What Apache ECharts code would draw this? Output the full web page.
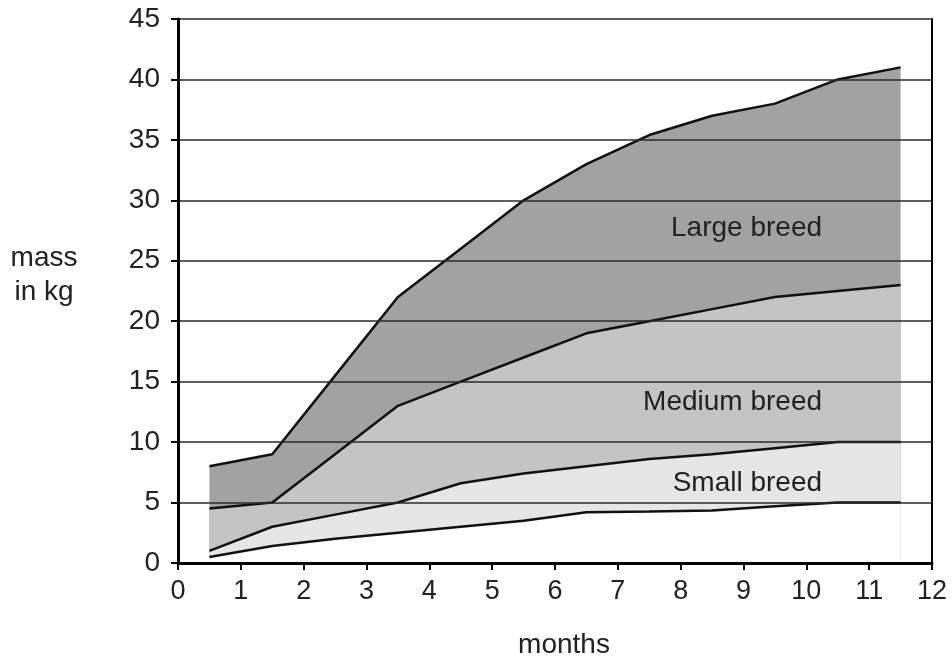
<!DOCTYPE html>
<html>
<head>
<meta charset="utf-8">
<script src="https://cdn.jsdelivr.net/npm/echarts@6/dist/echarts.min.js"></script>
<style>
html,body{margin:0;padding:0;background:#fff;}
#c{width:952px;height:659px;}
</style>
</head>
<body>
<div id="c"></div>
<script>
// months (x values)
var months = [0.5, 1.5, 2.5, 3.5, 4.5, 5.5, 6.5, 7.5, 8.5, 9.5, 10.5, 11.5];
// upper edge of Large breed band
var largeTop = [8, 9, 15.5, 22, 26, 30, 33, 35.4, 37, 38, 40, 41];
// upper edge of Medium breed band (= lower edge of Large breed)
var mediumTop = [4.5, 5, 9, 13, 15, 17, 19, 20, 21, 22, 22.5, 23];
// upper edge of Small breed band (= lower edge of Medium breed)
var smallTop = [1, 3, 4, 5, 6.6, 7.4, 8, 8.6, 9, 9.5, 10, 10];
// lower edge of Small breed band
var smallBottom = [0.5, 1.4, 2, 2.5, 3, 3.5, 4.2, 4.25, 4.35, 4.7, 5, 5];

var xTicks = [0,1,2,3,4,5,6,7,8,9,10,11,12];
var yTicks = [0,5,10,15,20,25,30,35,40,45];

var bandLabels = [
  {text: 'Large breed', x: 10.25, y: 27.7},
  {text: 'Medium breed', x: 10.25, y: 13.3},
  {text: 'Small breed', x: 10.25, y: 6.6}
];

function pairs(ys){ return months.map(function(m,i){ return [m, ys[i]]; }); }

var FONT = "'Liberation Sans', Arial, Helvetica, sans-serif";

function areaSeries(ys, fill){
  return {
    type: 'line',
    data: pairs(ys),
    symbol: 'none',
    smooth: false,
    lineStyle: {color: '#111', width: 2.5},
    areaStyle: {color: fill, opacity: 1, origin: 'start'},
    z: 2,
    silent: true,
    animation: false
  };
}

var chart = echarts.init(document.getElementById('c'), null, {renderer: 'canvas'});
chart.setOption({
  animation: false,
  backgroundColor: '#fff',
  grid: {left: 178, right: 20, top: 19, bottom: 96, containLabel: false, outerBoundsMode: 'none'},
  xAxis: {
    type: 'value', min: 0, max: 12, interval: 1,
    name: 'months', nameLocation: 'middle', nameGap: 68,
    nameTextStyle: {fontFamily: FONT, fontSize: 28, color: '#222', padding: [0,0,0,18]},
    axisLine: {show: true, onZero: false, lineStyle: {color: '#000', width: 3}},
    axisTick: {show: true, length: 7, lineStyle: {color: '#000', width: 2}},
    axisLabel: {fontFamily: FONT, fontSize: 27, color: '#222', margin: 15,
      formatter: function(v){ return xTicks.indexOf(v) >= 0 ? String(v) : ''; }},
    splitLine: {show: false},
    z: 10
  },
  yAxis: [{
    type: 'value', min: 0, max: 45, interval: 5,
    axisLine: {show: true, lineStyle: {color: '#000', width: 3}},
    axisTick: {show: true, length: 7, lineStyle: {color: '#000', width: 2}},
    axisLabel: {fontFamily: FONT, fontSize: 28, color: '#222', margin: 18,
      formatter: function(v){ return yTicks.indexOf(v) >= 0 ? String(v) : ''; }},
    splitLine: {show: true, lineStyle: {color: '#2a2a2a', width: 1.5}},
    z: 10
  }, {
    type: 'value', min: 0, max: 45, interval: 5, position: 'right',
    axisLine: {show: true, lineStyle: {color: '#000', width: 2}},
    axisTick: {show: false}, axisLabel: {show: false}, splitLine: {show: false},
    z: 10
  }],
  series: [
    areaSeries(largeTop, '#a2a2a2'),
    areaSeries(mediumTop, '#c4c4c4'),
    areaSeries(smallTop, '#e6e6e6'),
    areaSeries(smallBottom, '#ffffff')
  ]
});

var g = bandLabels.map(function(b){
  var p = chart.convertToPixel({gridIndex: 0}, [b.x, b.y]);
  return {type: 'text', x: p[0], y: p[1],
    style: {text: b.text, fontFamily: FONT, fontSize: 28, fill: '#222', align: 'right', verticalAlign: 'middle'},
    z: 20};
});
g.push({
  type: 'text', x: 44, y: 275,
  style: {text: 'mass\nin kg', fontFamily: FONT, fontSize: 28, fill: '#222', align: 'center', verticalAlign: 'middle', lineHeight: 34},
  z: 20
});
chart.setOption({graphic: g});
</script>
</body>
</html>
